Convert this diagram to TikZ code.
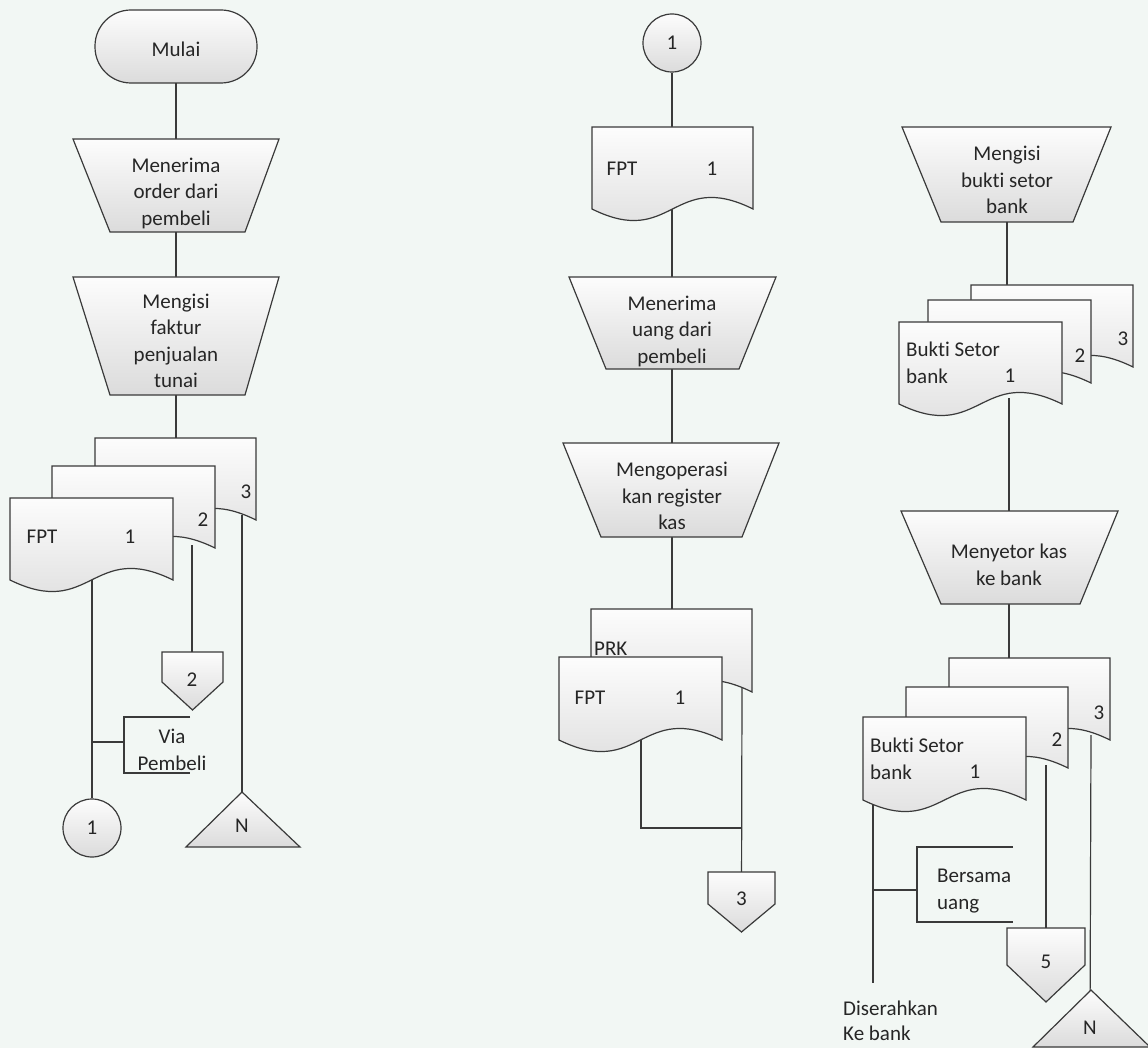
\documentclass[tikz,border=0pt]{standalone}
\usepackage{fontspec}
\setmainfont[RawFeature={-liga}]{Carlito}
\usetikzlibrary{calc}
\pgfdeclarelayer{back}
\pgfdeclarelayer{bg}
\pgfsetlayers{back,bg,main}
\definecolor{linec}{HTML}{3A3A3A}
\definecolor{txtc}{HTML}{262626}
\definecolor{bgc}{HTML}{F2F7F4}
\tikzset{
  every node/.style={font=\fontsize{21}{26.5}\selectfont, text=txtc},
  shp/.style={draw=linec, line width=1.2pt, top color=black!1, bottom color=black!14},
  con/.style={draw=linec, line width=1.2pt},
  txt/.style={align=center, inner sep=1pt},
  ltxt/.style={anchor=west, align=left, inner sep=0pt},
  conncirc/.style={shp, circle, minimum size=58pt, inner sep=0pt}
}
% document shape: x0, ytop, x1, ybottom
\newcommand\docshape[4]{%
  \path[shp] (#1,#2) -- (#3,#2) -- (#3,#4)
    .. controls ({(#1+#3)/2},{#4-40}) and ({(#1+#3)/2},{#4+40}) .. (#1,#4) -- cycle;}
% trapezoid: ytop, xtl, xtr, ybot, xbl, xbr
\newcommand\trapshape[6]{%
  \path[shp] (#2,#1) -- (#3,#1) -- (#6,#4) -- (#5,#4) -- cycle;}
% off-page connector: x0, x1, ytop, yside, ypoint
\newcommand\offpage[5]{%
  \path[shp] (#1,#3) -- (#2,#3) -- (#2,#4) -- ({(#1+#2)/2},#5) -- (#1,#4) -- cycle;}
% triangle: apex x, apex y, base y, x0, x1
\newcommand\filetri[5]{%
  \path[shp] (#1,#2) -- (#5,#3) -- (#4,#3) -- cycle;}
\begin{document}
\begin{tikzpicture}[x=1pt, y=-1pt]
\useasboundingbox (0,0) rectangle (1148,1048);
\begin{pgfonlayer}{back}
  \fill[bgc] (0,0) rectangle (1148,1048);
\end{pgfonlayer}

% ================= Column 1 =================
\path[shp, rounded corners=36pt] (95,10) rectangle (257,83);
\node[txt] (start) at (176,49) {Mulai};

\trapshape{139}{73}{279}{232}{110}{245}
\node[txt] (t1) at (176,193) {Menerima\\order dari\\pembeli};

\trapshape{277}{73}{279}{395}{110}{245}
\node[txt] (t2) at (176,341) {Mengisi\\faktur\\penjualan\\tunai};

\docshape{95}{438}{256}{520}
\docshape{52}{466}{215}{548}
\docshape{10}{498}{173}{580}
\node[txt] (fptA) at (42,537) {FPT};
\node[txt] (oneA) at (130,537) {1};
\node[txt] (twoA) at (203,520) {2};
\node[txt] (threeA) at (246,492) {3};
\coordinate (lD3t) at (176,438);
\coordinate (lD1b) at (92,578);
\coordinate (lD2b) at (192,545);
\coordinate (lD3b) at (242,515);

\offpage{162}{223}{652}{682}{710}
\node[txt] (op2) at (192,680) {2};

\draw[con] (190,717) -- (124,717) -- (124,773) -- (190,773);
\coordinate (a1) at (124,742);
\node[txt] (ann1) at (172,750) {Via\\Pembeli};

\node[conncirc] (c1) at (92,828) {1};

\filetri{242}{792}{847}{186}{300}
\node[txt] (n1) at (242,826) {N};

% ================= Column 2 =================
\node[conncirc] (c2) at (672,43) {1};

\docshape{592}{127}{753}{209}
\node[txt] (fptB) at (622,169) {FPT};
\node[txt] (oneB) at (712,169) {1};
\coordinate (m0t) at (672,127);
\coordinate (m0b) at (672,205);

\trapshape{277}{569}{776}{369}{606}{739}
\node[txt] (m1) at (672,331) {Menerima\\uang dari\\pembeli};

\trapshape{443}{563}{779}{537}{601}{742}
\node[txt] (m2) at (672,496) {Mengoperasi\\kan register\\kas};

\docshape{591}{609}{752}{692}
\node[ltxt] (prk) at (594,649) {PRK};
\docshape{559}{657}{722}{740}
\node[txt] (fptC) at (590,698) {FPT};
\node[txt] (oneC) at (680,698) {1};
\coordinate (prkt) at (672,609);
\coordinate (prkb) at (742,688);
\coordinate (fptb) at (641,735);
\coordinate (j1) at (742,828);

\offpage{708}{775}{872}{904}{932}
\node[txt] (op3) at (741.5,899) {3};

% ================= Column 3 =================
\trapshape{127}{902}{1111}{222}{941}{1073}
\node[txt] (r1) at (1007,180) {Mengisi\\bukti setor\\bank};

\docshape{971}{285}{1133}{367}
\docshape{928}{300}{1091}{383}
\docshape{899}{322}{1062}{404}
\node[ltxt] (bsA) at (906,363) {Bukti Setor\\bank};
\node[txt] (oneD) at (1010,376) {1};
\node[txt] (twoD) at (1080,356) {2};
\node[txt] (threeD) at (1123,339) {3};
\coordinate (r3t) at (1007,285);
\coordinate (rD1b) at (1009,398);

\trapshape{511}{901}{1118}{604}{941}{1080}
\node[txt] (r2) at (1009,565) {Menyetor kas\\ke bank};
\coordinate (s3t) at (1009,658);

\docshape{949}{658}{1110}{740}
\docshape{906}{687}{1068}{768}
\docshape{863}{717}{1026}{800}
\node[ltxt] (bsB) at (870,759) {Bukti Setor\\bank};
\node[txt] (oneE) at (975,772) {1};
\node[txt] (twoE) at (1057,740) {2};
\node[txt] (threeE) at (1099,713) {3};
\coordinate (sD1b) at (873,800);
\coordinate (sD2b) at (1046,765);
\coordinate (sD3b) at (1091,735);
\coordinate (send) at (873,983);

\draw[con] (1013,847) -- (917,847) -- (917,922) -- (1013,922);
\coordinate (a2) at (917,890);
\node[ltxt] (ann2) at (937,891) {Bersama\\uang};

\node[ltxt, font=\fontsize{21}{24.5}\selectfont] (dis) at (843,1021) {Diserahkan\\Ke bank};

\offpage{1007}{1085}{928}{965}{1002}
\node[txt] (op5) at (1046,962) {5};

\filetri{1091}{990}{1047}{1033}{1150}
\node[txt] (n2) at (1090,1028) {N};

% ================= Connectors =================
\begin{pgfonlayer}{bg}
  \draw[con] (start) -- (t1);
  \draw[con] (t1) -- (t2);
  \draw[con] (t2) -- (lD3t);
  \draw[con] (lD1b) -- (c1);
  \draw[con] (lD2b) -- (op2);
  \draw[con] (lD3b) -- (n1);
  \draw[con] (a1) -- (a1 -| lD1b);

  \draw[con] (c2) -- (m0t);
  \draw[con] (m0b) -- (m1);
  \draw[con] (m1) -- (m2);
  \draw[con] (m2) -- (prkt);
  \draw[con] (fptb) |- (j1);
  \draw[con] (prkb) -- (op3);

  \draw[con] (r1) -- (r3t);
  \draw[con] (rD1b) -- (r2);
  \draw[con] (r2) -- (s3t);
  \draw[con] (sD1b) -- (send);
  \draw[con] (a2) -- (a2 -| sD1b);
  \draw[con] (sD2b) -- (op5);
  \draw[con] (sD3b) -- (n2);
\end{pgfonlayer}
\end{tikzpicture}
\end{document}
